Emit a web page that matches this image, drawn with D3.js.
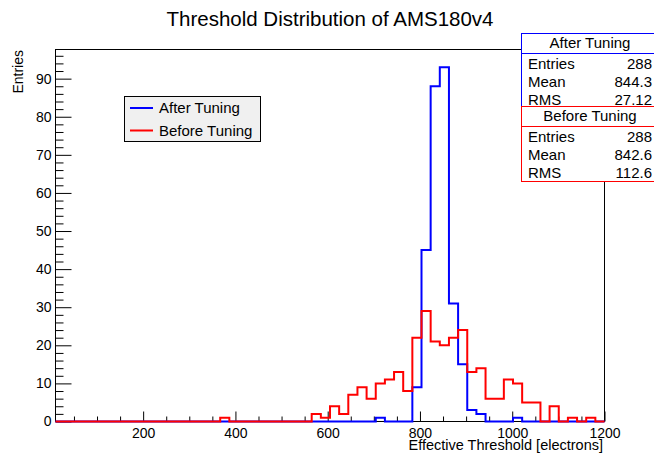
<!DOCTYPE html>
<html>
<head>
<meta charset="utf-8">
<script src="https://cdn.jsdelivr.net/npm/d3@7"></script>
<style>
  body { margin: 0; background: #fff; }
  svg { display: block; font-family: "Liberation Sans", Arial, sans-serif; }
</style>
</head>
<body>
<svg id="chart" width="654" height="453"></svg>
<script>
// histogram range and binning (60 bins between 10 and 1200)
var histMin = 10, histMax = 1200, nBins = 60;

// counts per bin
var afterCounts = [
  0,0,0,0,0,0,0,0,0,0,
  0,0,0,0,0,0,0,0,0,0,
  0,0,0,0,0,0,0,0,0,0,
  0,0,0,0,0,1,0,0,0,9,
  45,88,93,31,15,3,2,0,0,0,
  1,0,0,0,0,0,0,0,0,0
];
var beforeCounts = [
  0,0,0,0,0,0,0,0,0,0,
  0,0,0,0,0,0,0,0,1,0,
  0,0,0,0,0,0,0,0,2,1,
  4,2,7,9,6,10,11,13,8,22,
  29,21,20,22,24,13,14,6,6,11,
  10,5,5,0,4,0,1,0,1,0
];

var seriesNames = ["After Tuning", "Before Tuning"];
var seriesColors = ["#0000ff", "#ff0000"];
var statLabels = ["Entries", "Mean", "RMS"];
var statAfter = ["288", "844.3", "27.12"];
var statBefore = ["288", "842.6", "112.6"];

var xMajor = [200, 400, 600, 800, 1000, 1200];
var yMajor = [0, 10, 20, 30, 40, 50, 60, 70, 80, 90];
var yMax = 97.65;

var svg = d3.select("#chart");

// plot frame edges
var padL = 55.5, padR = 604.5, padT = 49.5, padB = 421.5;

var x = d3.scaleLinear().domain([histMin, histMax]).range([padL, padR]);
var y = d3.scaleLinear().domain([0, yMax]).range([padB, padT]);

// frame box
svg.append("rect")
  .attr("x", padL).attr("y", padT)
  .attr("width", padR - padL).attr("height", padB - padT)
  .attr("fill", "none").attr("stroke", "#000").attr("stroke-width", 1);

// minor ticks x (every 50)
var xMinor = d3.range(50, histMax + 1, 50).filter(function(v) { return v % 200 !== 0; });
var xMinorAxis = svg.append("g").attr("transform", "translate(0," + padB + ")")
  .call(d3.axisBottom(x).tickValues(xMinor).tickSizeInner(-5).tickSizeOuter(0).tickFormat(""));
var xMajorAxis = svg.append("g").attr("transform", "translate(0," + padB + ")")
  .call(d3.axisBottom(x).tickValues(xMajor).tickSizeInner(-10).tickSizeOuter(0)
    .tickFormat(d3.format("d")));

// minor ticks y (every 2)
var yMinor = d3.range(0, 97, 2).filter(function(v) { return v % 10 !== 0; });
var yMinorAxis = svg.append("g").attr("transform", "translate(" + padL + ",0)")
  .call(d3.axisLeft(y).tickValues(yMinor).tickSizeInner(-8).tickSizeOuter(0).tickFormat(""));
var yMajorAxis = svg.append("g").attr("transform", "translate(" + padL + ",0)")
  .call(d3.axisLeft(y).tickValues(yMajor).tickSizeInner(-16).tickSizeOuter(0).tickPadding(4)
    .tickFormat(d3.format("d")));

[xMinorAxis, xMajorAxis, yMinorAxis, yMajorAxis].forEach(function(a) {
  a.select(".domain").remove();
  a.selectAll("line").attr("stroke", "#000");
  a.selectAll("text")
    .attr("fill", "#000")
    .style("font-family", "'Liberation Sans', Arial, sans-serif")
    .style("font-size", "14px");
});
xMajorAxis.selectAll("text").attr("dy", null).attr("y", 16.5);

// histogram outlines
var binWidth = (histMax - histMin) / nBins;
function stepPoints(counts) {
  var pts = [[histMin, 0]];
  counts.forEach(function(c, i) {
    pts.push([histMin + i * binWidth, c]);
    pts.push([histMin + (i + 1) * binWidth, c]);
  });
  pts.push([histMax, 0]);
  return pts;
}
var line = d3.line()
  .x(function(d) { return x(d[0]); })
  .y(function(d) { return y(d[1]); });

[afterCounts, beforeCounts].forEach(function(counts, i) {
  svg.append("path")
    .attr("d", line(stepPoints(counts)))
    .attr("fill", "none")
    .attr("stroke", seriesColors[i])
    .attr("stroke-width", 2);
});

// title
svg.append("text")
  .attr("x", 330).attr("y", 26)
  .attr("text-anchor", "middle")
  .style("font-size", "20.5px")
  .text("Threshold Distribution of AMS180v4");

// axis titles
svg.append("text")
  .attr("x", 603).attr("y", 450)
  .attr("text-anchor", "end")
  .style("font-size", "14.5px")
  .text("Effective Threshold [electrons]");

svg.append("text")
  .attr("transform", "translate(22.5,50) rotate(-90)")
  .attr("text-anchor", "end")
  .style("font-size", "14px")
  .text("Entries");

// legend
var legend = svg.append("g");
legend.append("rect")
  .attr("x", 124.5).attr("y", 96.5)
  .attr("width", 136).attr("height", 45)
  .attr("fill", "#f0f0f0").attr("stroke", "#000");
seriesNames.forEach(function(name, i) {
  var ly = 108 + i * 22.5;
  legend.append("line")
    .attr("x1", 130).attr("x2", 153)
    .attr("y1", ly).attr("y2", ly)
    .attr("stroke", seriesColors[i]).attr("stroke-width", 2);
  legend.append("text")
    .attr("x", 159).attr("y", ly + 5)
    .style("font-size", "15px")
    .text(name);
});

// stat boxes
function statBox(y0, h, name, color, values) {
  var g = svg.append("g");
  g.append("rect")
    .attr("x", 521.5).attr("y", y0 + 0.5)
    .attr("width", 140).attr("height", h)
    .attr("fill", "#fff").attr("stroke", color);
  g.append("line")
    .attr("x1", 521.5).attr("x2", 660)
    .attr("y1", y0 + 20.5).attr("y2", y0 + 20.5)
    .attr("stroke", color);
  g.append("text")
    .attr("x", 590).attr("y", y0 + 15)
    .attr("text-anchor", "middle")
    .style("font-size", "15px")
    .text(name);
  statLabels.forEach(function(lbl, i) {
    var ty = y0 + 35.5 + i * 18.3;
    g.append("text").attr("x", 528).attr("y", ty)
      .style("font-size", "15px").text(lbl);
    g.append("text").attr("x", 652).attr("y", ty)
      .attr("text-anchor", "end")
      .style("font-size", "15px").text(values[i]);
  });
}
statBox(33, 73, seriesNames[0], "#0000ff", statAfter);
statBox(106, 75, seriesNames[1], "#ff0000", statBefore);
</script>
</body>
</html>
